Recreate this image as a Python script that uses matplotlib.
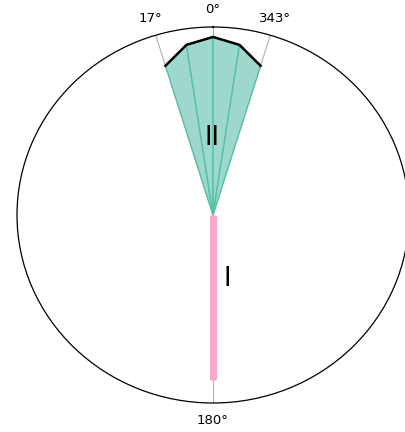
import numpy as np
import matplotlib
matplotlib.use('Agg')
import matplotlib.pyplot as plt

# group II: fan around north, radii (outer circle = 1)
theta_ii = [17, 8.5, 0, -8.5, -17]
r_ii = [0.83, 0.915, 0.947, 0.915, 0.83]

# group I: single spoke to the south
theta_i = [180]
r_i = [0.875]

tick_angles = [0, 17, 180, 343]
tick_labels = ['0°', '17°', '180°', '343°']

teal_fill = '#9ed8cc'
teal_edge = '#55c1a8'
pink = '#f5a8c8'

fig = plt.figure(figsize=(4.06, 4.32), dpi=100)
ax = fig.add_axes([17 / 406, 29 / 432, 392 / 406, 376 / 432], projection='polar')
ax.set_aspect('auto')
ax.set_theta_zero_location('N')
ax.set_theta_direction(1)
ax.set_ylim(0, 1)

th = np.deg2rad(theta_ii)
# each slice as a triangle from the centre
for k in range(len(th) - 1):
    ax.fill([0, th[k], th[k + 1]], [0, r_ii[k], r_ii[k + 1]],
            facecolor=teal_fill, edgecolor=teal_edge, linewidth=1.0, zorder=3)
ax.plot(th, r_ii, color='black', linewidth=1.8, zorder=4)

for t, r in zip(theta_i, r_i):
    ax.plot([np.deg2rad(t)] * 2, [0, r], color=pink, linewidth=5,
            solid_capstyle='butt', zorder=3)

ax.set_xticks(np.deg2rad(tick_angles))
ax.set_xticklabels(tick_labels, fontsize=9.5)
ax.tick_params(axis='x', pad=2)
ax.set_yticks([])
ax.grid(True, axis='x', color='#b0b0b0', linewidth=0.8)
ax.spines['polar'].set_linewidth(0.9)

ax.text(np.deg2rad(1.0), 0.412, 'II', fontsize=18.5, ha='center', va='center', zorder=5)
ax.text(np.deg2rad(192.3), 0.348, 'I', fontsize=18.5, ha='center', va='center', zorder=5)

fig.savefig('out.png', dpi=100)
